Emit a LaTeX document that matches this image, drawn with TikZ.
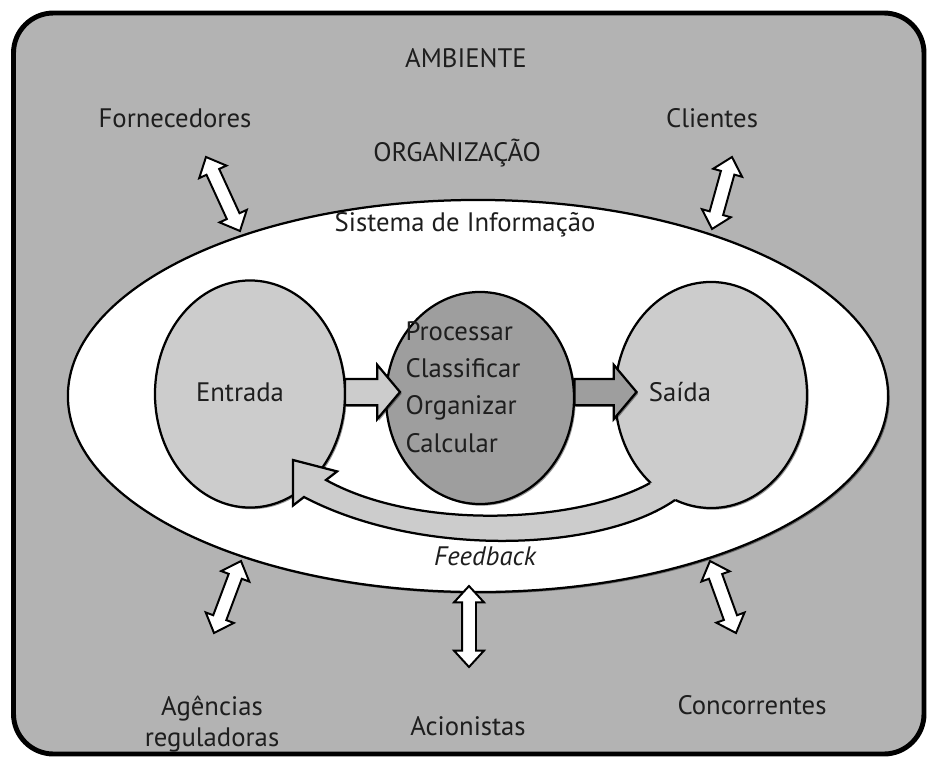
\documentclass[tikz,border=0pt]{standalone}
\usepackage{fontspec}
\setmainfont{PT Sans}
\usetikzlibrary{shapes.geometric, shapes.arrows, calc, shadows}

\definecolor{bggray}{RGB}{179,179,179}
\definecolor{iogray}{RGB}{204,204,204}
\definecolor{procgray}{RGB}{158,158,158}
\definecolor{txtgray}{RGB}{30,30,30}

% hollow double arrow between two named points
\newcommand{\dblarrow}[3]{%
  \path let \p1=($(#3)-(#2)$), \n1={atan2(\y1,\x1)}, \n2={veclen(\x1,\y1)} in
    node[dbl, minimum height=\n2, rotate=\n1] (#1) at ($(#2)!0.5!(#3)$) {};}

\begin{document}
\begin{tikzpicture}[x=0.025cm, y=-0.025cm,
  every node/.style={text=txtgray, font=\fontsize{19}{23}\selectfont},
  blob/.style={ellipse, draw=black, line width=1.6pt, inner sep=0pt,
    drop shadow={shadow xshift=1.2pt, shadow yshift=-1.2pt, opacity=.4, fill=black}},
  fwd/.style={single arrow, draw=black, line width=1.6pt, inner sep=0.3cm,
    single arrow head extend=0.35cm, single arrow tip angle=100,
    drop shadow={shadow xshift=1.2pt, shadow yshift=-1.2pt, opacity=.4, fill=black}},
  dbl/.style={double arrow, draw=black, fill=white, line width=1.4pt, inner sep=0.15cm,
    double arrow head extend=0.2cm, double arrow tip angle=85}]

\useasboundingbox (0,0) rectangle (927,757);

% Ambiente
\draw[line width=3.5pt, fill=bggray, rounded corners=1cm] (13.5,13) rectangle (924,754);

% Organizacao and its parts
\node[blob, fill=white, minimum width=20.5cm, minimum height=9.8cm] (org) at (478,396) {};
\node[blob, fill=iogray, minimum width=4.75cm, minimum height=5.675cm] (ent) at (250,394) {};
\node[blob, fill=iogray, minimum width=4.8cm, minimum height=5.65cm] (sai) at (711,395) {};
\node[blob, fill=procgray, minimum width=4.7cm, minimum height=5.3cm] (proc) at (480,398) {};

% Arrows between the parts
\node[fwd, fill=iogray, minimum height=1.375cm] (in arrow) at (367,392) {};
\node[fwd, fill=procgray, minimum height=1.55cm] (out arrow) at (600,392) {};

% Feedback from Saida back to Entrada
\coordinate (fb top) at (650,483);
\coordinate (fb bottom) at (675,500);
\coordinate (fb back) at (700,470);
\coordinate (fb base1) at (326,480);
\coordinate (fb base2) at (304,497);
\coordinate (fb barb1) at (337.1,471.4);
\coordinate (fb barb2) at (292.9,505.6);
\coordinate (fb tip) at (293,460);
\fill[iogray] (fb top) .. controls (580,522) and (420,532) .. (fb base1) -- (fb barb1) -- (fb tip)
  -- (fb barb2) -- (fb base2) .. controls (420,558) and (600,552) .. (fb bottom) -- (fb back) -- cycle;
\draw[line width=1.6pt] (fb top) .. controls (580,522) and (420,532) .. (fb base1) -- (fb barb1) -- (fb tip)
  -- (fb barb2) -- (fb base2) .. controls (420,558) and (600,552) .. (fb bottom);

% Labels
\node (ambiente) at (466,58) {AMBIENTE};
\node (forn) at (175,118) {Fornecedores};
\node (cli) at (712,118) {Clientes};
\node (orgtext) at (457,153) {ORGANIZAÇÃO};
\node (sistema) at (465,225) {Sistema de Informação};
\node (enttext) at (240,392) {Entrada};
\node (saitext) at (680,392) {Saída};
\node[align=left, font=\fontsize{19}{26.5}\selectfont] (proctext) at (463,387) {Processar\\Classificar\\Organizar\\Calcular};
\node[font=\fontsize{19}{23}\selectfont\itshape] (fb) at (485,556) {Feedback};
\node[align=center, font=\fontsize{19}{21.5}\selectfont] (agen) at (212,724) {Agências\\reguladoras};
\node (acio) at (468,726) {Acionistas};
\node (conc) at (752,705) {Concorrentes};

% Exchanges with the environment
\coordinate (forn a) at (240,231);
\coordinate (forn b) at (206,157);
\coordinate (cli a) at (712,229);
\coordinate (cli b) at (732,157);
\coordinate (agen a) at (241,561);
\coordinate (agen b) at (214,633);
\coordinate (acio a) at (469,586);
\coordinate (acio b) at (469,667);
\coordinate (conc a) at (710,561);
\coordinate (conc b) at (736,633);

\dblarrow{forn arrow}{forn a}{forn b}
\dblarrow{cli arrow}{cli a}{cli b}
\dblarrow{agen arrow}{agen a}{agen b}
\dblarrow{acio arrow}{acio a}{acio b}
\dblarrow{conc arrow}{conc a}{conc b}

\end{tikzpicture}
\end{document}
